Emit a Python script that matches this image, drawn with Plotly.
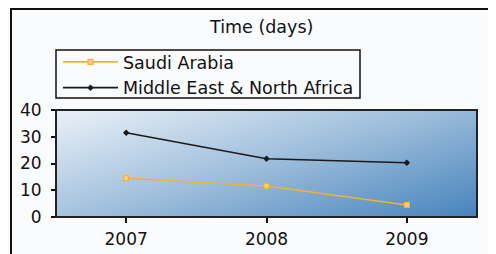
import numpy as np
import plotly.graph_objects as go

years = [2007, 2008, 2009]
saudi = [14.5, 11.6, 4.5]
mena = [31.5, 21.8, 20.3]
y_ticks = [0, 10, 20, 30, 40]
title_text = "Time (days)"
names = ["Saudi Arabia", "Middle East & North Africa"]

OFF = 8  # default page body margin
W, H = 496 - OFF, 254 - OFF
L, T = 56 - OFF, 110 - OFF
pw, ph = 421, 107
R, B = W - L - pw, H - T - ph

# background gradient (style only)
gx = np.linspace(2006.5, 2009.5, 40)
gy = np.linspace(0, 40, 40)
GX, GY = np.meshgrid((gx - 2006.5) / 3.0, 1 - gy / 40.0)
gz = GX * 0.55 + GY * 0.45

fig = go.Figure()
fig.add_trace(go.Heatmap(
    x=gx, y=gy, z=gz, zsmooth="best", showscale=False, hoverinfo="skip",
    colorscale=[[0, "#eaf1f8"], [0.5, "#9dbddb"], [1, "#4683bb"]],
    zmin=0, zmax=1, showlegend=False,
))
fig.add_trace(go.Scatter(
    x=years, y=saudi, name=names[0], mode="lines+markers",
    line=dict(color="#f2b232", width=1.6),
    marker=dict(symbol="square", size=5, color="#f7d27a",
                line=dict(color="#f2b232", width=1.2)),
))
fig.add_trace(go.Scatter(
    x=years, y=mena, name=names[1], mode="lines+markers",
    line=dict(color="#1a1a1a", width=1.6),
    marker=dict(symbol="diamond", size=5, color="#1a1a1a"),
))


def px_x(p):
    return (p - OFF - L) / pw


def px_y(p):
    return (H - B - (p - OFF)) / ph


fig.update_layout(
    width=W, height=H,
    margin=dict(l=L, r=R, t=T, b=B, autoexpand=False),
    paper_bgcolor="#f9fbfd", plot_bgcolor="#f9fbfd",
    font=dict(family="DejaVu Sans", size=16, color="#111"),
    showlegend=True,
    legend=dict(
        x=px_x(58), y=px_y(44), xanchor="left", yanchor="top",
        bgcolor="rgba(0,0,0,0)", borderwidth=0,
        font=dict(size=17.5), tracegroupgap=0, itemwidth=55,
    ),
    annotations=[dict(
        text=title_text, x=px_x(261), y=px_y(27), xref="paper", yref="paper",
        showarrow=False, font=dict(size=17.5), xanchor="center", yanchor="middle",
    )],
    shapes=[
        dict(type="rect", xref="paper", yref="paper",
             x0=px_x(11), x1=px_x(520), y0=px_y(280), y1=px_y(9),
             line=dict(color="#111", width=2), layer="below"),
        dict(type="rect", xref="paper", yref="paper",
             x0=px_x(56), x1=px_x(360), y0=px_y(98), y1=px_y(50),
             line=dict(color="#111", width=1.5)),
        dict(type="rect", xref="paper", yref="paper",
             x0=0, x1=1, y0=0, y1=1,
             line=dict(color="#222", width=2)),
    ],
)
fig.update_xaxes(
    range=[2006.5, 2009.5], tickvals=years, ticktext=[str(y) for y in years],
    ticks="outside", ticklen=5, tickcolor="#111", tickwidth=1.5,
    showgrid=False, zeroline=False, showline=False,
    tickfont=dict(size=17), fixedrange=True, ticklabelstandoff=2,
)
fig.update_yaxes(
    range=[0, 40], tickvals=y_ticks, ticks="outside", ticklen=4,
    tickcolor="#111", tickwidth=1.5, showgrid=False, zeroline=False,
    showline=False, tickfont=dict(size=17), fixedrange=True,
    ticklabelstandoff=6,
)
fig.write_html("out.html")
